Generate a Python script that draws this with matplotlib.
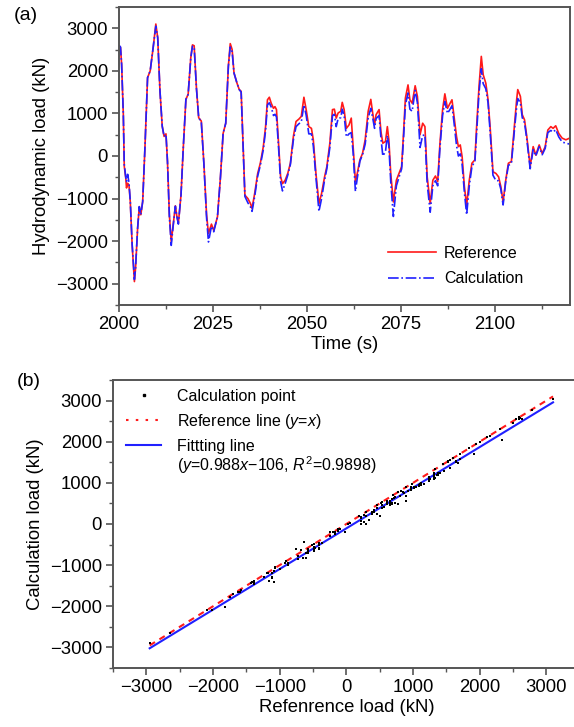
import matplotlib
matplotlib.use("Agg")
import matplotlib.pyplot as plt
from matplotlib.lines import Line2D
from matplotlib.ticker import MultipleLocator

plt.rcParams['font.family'] = ['Liberation Sans', 'DejaVu Sans']
plt.rcParams['mathtext.fontset'] = 'custom'
plt.rcParams['mathtext.rm'] = 'Liberation Sans'
plt.rcParams['mathtext.it'] = 'Liberation Sans:italic'

# time history
time = [
    2000.0, 2000.4, 2000.7, 2001.15, 2001.4, 2001.8, 2002.0, 2002.3, 2002.65, 2003.0,
    2003.5, 2004.1, 2004.4, 2004.95, 2005.4, 2005.8, 2006.3, 2006.9, 2007.6, 2008.3,
    2009.1, 2009.8, 2010.3, 2010.9, 2011.5, 2012.0, 2012.5, 2012.9, 2013.4, 2013.9,
    2014.4, 2015.0, 2015.4, 2015.8, 2016.5, 2017.1, 2017.8, 2018.4, 2019.1, 2019.55,
    2020.0, 2020.6, 2021.2, 2021.9, 2022.6, 2023.3, 2023.8, 2024.6, 2025.2, 2026.2,
    2027.0, 2027.7, 2028.4, 2029.1, 2029.6, 2030.1, 2030.6, 2031.4, 2032.0, 2032.5,
    2033.0, 2033.5, 2034.3, 2035.0, 2035.4, 2036.1, 2036.9, 2037.6, 2038.4, 2039.0,
    2039.5, 2040.0, 2040.5, 2041.1, 2041.5, 2041.9, 2042.4, 2043.0, 2043.5, 2044.2,
    2044.9, 2045.6, 2046.4, 2047.1, 2047.9, 2048.5, 2049.2, 2049.8, 2050.5, 2051.2,
    2051.7, 2052.4, 2053.2, 2053.9, 2054.7, 2055.3, 2056.1, 2056.8, 2057.3, 2057.8,
    2058.3, 2059.0, 2059.4, 2059.9, 2060.5, 2061.2, 2061.8, 2062.3, 2062.9, 2063.4,
    2064.1, 2064.8, 2065.5, 2066.3, 2067.0, 2067.5, 2068.0, 2068.4, 2069.2, 2069.7,
    2070.2, 2070.9, 2071.4, 2071.8, 2072.3, 2073.0, 2073.8, 2074.5, 2075.2, 2075.7,
    2076.2, 2076.9, 2077.4, 2078.0, 2078.8, 2079.4, 2080.1, 2080.8, 2081.4, 2082.0,
    2082.8, 2083.5, 2084.2, 2084.8, 2085.4, 2086.1, 2086.7, 2087.4, 2088.1, 2088.6,
    2089.1, 2089.8, 2090.3, 2090.8, 2091.3, 2091.9, 2092.5, 2093.2, 2093.9, 2094.7,
    2095.1, 2095.8, 2096.4, 2096.9, 2097.6, 2098.2, 2098.8, 2099.5, 2100.3, 2101.0,
    2101.6, 2102.2, 2102.9, 2103.6, 2104.4, 2105.2, 2105.8, 2106.1, 2106.8, 2107.3,
    2107.9, 2108.5, 2109.4, 2110.2, 2110.9, 2111.8, 2112.6, 2113.4, 2114.1, 2114.9,
    2115.5, 2116.2, 2117.0, 2117.9, 2118.9, 2119.9,
]

reference = [
    2590, 2550, 2150, 980, -240, -520, -750, -640, -680, -1070,
    -2090, -2950, -2640, -1700, -1190, -1380, -1070, 190, 1840, 2000,
    2550, 3100, 2780, 1530, 700, 460, 520, -130, -1380, -2010,
    -1620, -1170, -1420, -1580, -910, 190, 1330, 1450, 2310, 2610,
    2590, 1600, 900, 820, -200, -1380, -1820, -1600, -1750, -1430,
    -490, 530, 770, 2110, 2640, 2500, 1950, 1710, 1560, 1520,
    300, -920, -1000, -1120, -1230, -880, -410, -170, 220, 690,
    1320, 1380, 1240, 1120, 1160, 1090, 380, -490, -650, -570,
    -410, -170, 460, 810, 870, 930, 1380, 1090, 690, 650,
    380, -410, -1120, -880, -490, -250, 300, 1090, 1100, 890,
    1010, 1050, 1260, 1090, 650, 730, 890, 220, -600, -410,
    -90, 60, 380, 1050, 1330, 1010, 730, 970, 1090, 570,
    300, 340, 690, 380, -410, -1080, -570, -410, -250, 530,
    1360, 1670, 1320, 1240, 1650, 1400, 500, 770, 690, -490,
    -1120, -570, -470, -600, 300, 1090, 1460, 1120, 1240, 1320,
    970, 460, 220, 260, -20, -720, -1160, -570, -170, -90,
    610, 1640, 2340, 1910, 1710, 1320, 610, -370, -410, -490,
    -720, -1080, -570, -170, -130, 690, 1320, 1560, 1400, 970,
    850, 460, -250, 220, 20, 260, 60, 220, 610, 690,
    650, 710, 530, 420, 380, 420,
]

calculation = [
    2600, 2560, 2150, 980, -200, -500, -600, -430, -620, -1050,
    -2080, -2900, -2640, -1700, -1190, -1380, -1070, 190, 1840, 2000,
    2550, 3050, 2780, 1530, 700, 460, 510, -130, -1420, -2100,
    -1650, -1180, -1420, -1600, -910, 190, 1330, 1450, 2310, 2580,
    2560, 1600, 900, 800, -200, -1450, -2020, -1650, -1780, -1430,
    -490, 530, 770, 2110, 2560, 2450, 1950, 1710, 1560, 1500,
    300, -950, -1100, -1200, -1300, -950, -470, -220, 150, 600,
    1200, 1250, 1150, 950, 980, 920, 280, -600, -820, -650,
    -450, -200, 380, 690, 760, 800, 1200, 960, 520, 520,
    240, -500, -1300, -1000, -560, -300, 200, 950, 980, 690,
    880, 900, 1100, 950, 450, 520, 550, 80, -830, -520,
    -120, 30, 280, 900, 1120, 900, 650, 880, 950, 420,
    0, 100, 480, 250, -600, -1420, -700, -500, -300, 400,
    1200, 1480, 1100, 1050, 1540, 1250, 200, 480, 500, -650,
    -1320, -700, -580, -700, 200, 950, 1280, 1000, 1100, 1180,
    820, 250, 0, 50, -200, -850, -1380, -700, -250, -120,
    480, 1500, 2050, 1700, 1580, 1250, 500, -450, -580, -580,
    -780, -1150, -600, -220, -180, 600, 1150, 1350, 1250, 900,
    780, 400, -300, 150, 0, 220, 30, 180, 550, 600,
    560, 620, 450, 330, 300, 280,
]

# fitted line y = 0.988x - 106 over the range of the points
fit_x = [-2950, 3100]
fit_y = [0.988 * -2950 - 106, 0.988 * 3100 - 106]
ref_line = [-2950, 3100]

spine_col = '#555555'
red = '#ff1a1a'
blue = '#2020ff'

fig = plt.figure(figsize=(5.74, 7.27), dpi=100)

# ---------------- panel (a) ----------------
ax1 = fig.add_axes([119 / 574, 1 - 305 / 727, 451 / 574, 298 / 727])
ax1.plot(time, reference, color=red, lw=1.2, label='Reference')
ax1.plot(time, calculation, color=blue, lw=1.2, ls='-.', label='Calculation')
ax1.set_xlim(2000, 2120)
ax1.set_ylim(-3500, 3500)
ax1.xaxis.set_major_locator(MultipleLocator(25))
ax1.xaxis.set_minor_locator(MultipleLocator(12.5))
ax1.set_yticks([-3000, -2000, -1000, 0, 1000, 2000, 3000])
ax1.yaxis.set_minor_locator(MultipleLocator(500))
ax1.set_xlabel('Time (s)', fontsize=13.3, labelpad=2)
ax1.set_ylabel('Hydrodynamic load (kN)', fontsize=13.3, labelpad=4)
ax1.legend(loc='upper left', bbox_to_anchor=(388 / 574, 1 - 246 / 727),
           bbox_transform=fig.transFigure, frameon=False, fontsize=11.5,
           handlelength=3.0, handletextpad=0.5, labelspacing=0.65,
           borderpad=0, borderaxespad=0)
fig.text(14 / 574, 1 - 15 / 727, '(a)', fontsize=14, va='center', ha='left')

# ---------------- panel (b) ----------------
ax2 = fig.add_axes([113 / 574, 1 - 668 / 727, 466.7 / 574, 288 / 727])
ax2.plot(ref_line, ref_line, color=red, lw=1.5, ls=(0, (3, 2.5)))
ax2.plot(fit_x, fit_y, color=blue, lw=1.5)
ax2.scatter(reference, calculation, s=3, marker='s', color='black', lw=0,
            zorder=3)
ax2.set_xlim(-3500, 3500)
ax2.set_ylim(-3500, 3500)
ax2.set_xticks([-3000, -2000, -1000, 0, 1000, 2000, 3000])
ax2.set_yticks([-3000, -2000, -1000, 0, 1000, 2000, 3000])
ax2.xaxis.set_minor_locator(MultipleLocator(500))
ax2.yaxis.set_minor_locator(MultipleLocator(500))
ax2.set_xlabel('Refenrence load (kN)', fontsize=13.3, labelpad=2)
ax2.set_ylabel('Calculation load (kN)', fontsize=13.3, labelpad=4)

handles = [
    Line2D([], [], ls='none', marker='s', ms=1.8, color='black'),
    Line2D([], [], color=red, lw=1.5, ls=(0, (1.2, 3.5))),
    Line2D([], [], color=blue, lw=1.5),
]
labels = ['Calculation point', 'Reference line ($y$=$x$)', 'Fittting line']
ax2.legend(handles, labels, loc='upper left',
           bbox_to_anchor=(126 / 574, 1 - 389 / 727),
           bbox_transform=fig.transFigure, frameon=False, fontsize=11.5,
           handlelength=2.2, handletextpad=1.0, labelspacing=0.5,
           borderpad=0, borderaxespad=0)
fig.text(177 / 574, 1 - 465 / 727, '($y$=0.988$x$\u2212106, $R^2$=0.9898)',
         fontsize=11.5, va='center', ha='left')
fig.text(17 / 574, 1 - 382 / 727, '(b)', fontsize=14, va='center', ha='left')

for ax in (ax1, ax2):
    for s in ax.spines.values():
        s.set_color(spine_col)
        s.set_linewidth(1.4)
    ax.tick_params(which='major', direction='out', length=5, width=1.2,
                   color=spine_col, labelsize=13.3, pad=3)
    ax.tick_params(which='minor', direction='out', length=3, width=1.0,
                   color=spine_col)

fig.savefig('out.png', dpi=100)
